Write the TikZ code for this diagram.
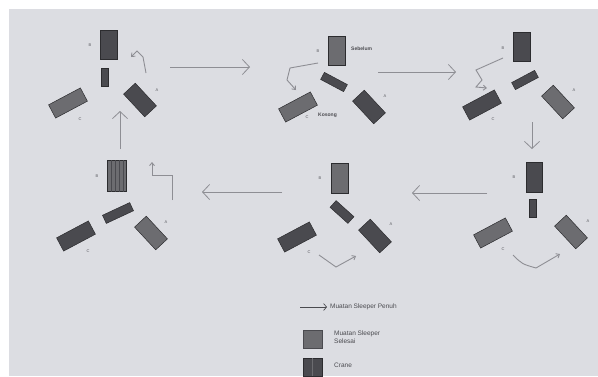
\documentclass[tikz,border=0pt]{standalone}
\usepackage{fontspec}
\setmainfont{Liberation Sans}
\usetikzlibrary{arrows.meta}
\definecolor{paper}{HTML}{DCDDE2}
\definecolor{pile}{HTML}{4A4A4F}
\definecolor{pilelt}{HTML}{6C6C70}
\definecolor{arr}{HTML}{8E8E94}
\definecolor{lbl}{HTML}{5A5A60}
\tikzset{
  pv/.style={fill=pile, draw=pile!60!black, line width=0.5pt, minimum width=17pt, minimum height=29pt, inner sep=0pt},
  pll/.style={fill=pile, draw=pile!60!black, line width=0.5pt, minimum width=36pt, minimum height=15pt, inner sep=0pt, rotate=28},
  plr/.style={fill=pile, draw=pile!60!black, line width=0.5pt, minimum width=31pt, minimum height=16pt, inner sep=0pt, rotate=-47},
  crv/.style={fill=pile, draw=pile!60!black, line width=0.5pt, minimum width=7pt, minimum height=18pt, inner sep=0pt},
  crt/.style={fill=pile, draw=pile!60!black, line width=0.5pt, minimum width=26pt, minimum height=8pt, inner sep=0pt},
  light/.style={fill=pilelt},
  tag/.style={font=\fontsize{4}{4}\selectfont, text=lbl, inner sep=0pt},
  note/.style={font=\fontsize{5}{6}\selectfont\bfseries, text=pile, inner sep=0pt, anchor=west},
  bigarr/.style={draw=arr, line width=0.9pt, -{Straight Barb[length=7pt,width=15pt,line width=0.8pt]}},
  movearr/.style={draw=arr, line width=0.9pt, -{Straight Barb[length=3pt,width=5pt]}},
  legtext/.style={font=\fontsize{6.5}{7.5}\selectfont, text=pile, inner sep=0pt, anchor=west, align=left}
}
\begin{document}
\begin{tikzpicture}[x=1pt,y=-1pt]
\useasboundingbox (0,0) rectangle (598,376);
\fill[white] (0,0) rectangle (598,376);
\fill[paper] (9,9) rectangle (598,376);

% ---------- Panel 1 (top left)
\node[pv] (p1t) at (109,45) {};
\node[crv] (p1c) at (105,77) {};
\node[pll, light] (p1l) at (68,103) {};
\node[plr] (p1r) at (140,100) {};
\node[tag] (p1b) at (90,45) {B};
\node[tag] (p1a) at (157,90) {A};
\node[tag] (p1cc) at (80,119) {C};
\coordinate (m1a) at (146,73);
\coordinate (m1b) at (143,57);
\coordinate (m1c) at (137,51);
\coordinate (m1d) at (131,57);
\draw[movearr] (m1a) -- (m1b) -- (m1c) -- (m1d);

% ---------- Panel 2 (top middle)
\node[pv, light] (p2t) at (337,51) {};
\node[crt, rotate=-28] (p2c) at (334,82) {};
\node[pll, light] (p2l) at (298,107) {};
\node[plr] (p2r) at (369,107) {};
\node[tag] (p2b) at (318,51) {B};
\node[tag] (p2a) at (385,96) {A};
\node[tag] (p2cc) at (307,117) {C};
\node[note] (p2n) at (351,49) {Sebelum};
\node[note] (p2k) at (318,115) {Kosong};
\coordinate (m2a) at (318,63);
\coordinate (m2b) at (290,68);
\coordinate (m2c) at (287,80);
\coordinate (m2d) at (296,90);
\draw[movearr] (m2a) -- (m2b) -- (m2c) -- (m2d);

% ---------- Panel 3 (top right)
\node[pv] (p3t) at (522,47) {};
\node[crt, rotate=28] (p3c) at (525,80) {};
\node[pll] (p3l) at (482,105) {};
\node[plr, light] (p3r) at (558,102) {};
\node[tag] (p3b) at (503,48) {B};
\node[tag] (p3a) at (574,90) {A};
\node[tag] (p3cc) at (493,119) {C};
\coordinate (m3a) at (503,58);
\coordinate (m3b) at (476,70);
\coordinate (m3c) at (482,80);
\coordinate (m3d) at (476,87);
\coordinate (m3e) at (487,88);
\draw[movearr] (m3a) -- (m3b) -- (m3c) -- (m3d) -- (m3e);

% ---------- Panel 4 (bottom right)
\node[pv, minimum height=30pt, minimum width=16pt] (p4t) at (534,177) {};
\node[crv] (p4c) at (533,208) {};
\node[pll, light] (p4l) at (493,233) {};
\node[plr, light] (p4r) at (571,232) {};
\node[tag] (p4b) at (514,177) {B};
\node[tag] (p4a) at (588,221) {A};
\node[tag] (p4cc) at (503,249) {C};
\coordinate (m4a) at (513,255);
\coordinate (m4b) at (536,268);
\coordinate (m4c) at (560,254);
\draw[movearr] (m4a) .. controls (522,264) .. (m4b) -- (m4c);

% ---------- Panel 5 (bottom middle)
\node[pv, light, minimum height=30pt] (p5t) at (340,178) {};
\node[crt, rotate=-42, minimum width=24pt, minimum height=9pt] (p5c) at (342,212) {};
\node[pll] (p5l) at (297,237) {};
\node[plr] (p5r) at (375,236) {};
\node[tag] (p5b) at (320,178) {B};
\node[tag] (p5a) at (391,224) {A};
\node[tag] (p5cc) at (309,252) {C};
\coordinate (m5a) at (319,255);
\coordinate (m5b) at (336,267);
\coordinate (m5c) at (356,256);
\draw[movearr] (m5a) -- (m5b) -- (m5c);

% ---------- Panel 6 (bottom left)
\node[pv, light, minimum width=19pt, minimum height=31pt] (p6t) at (117,176) {};
\foreach \i in {-6,-2,2,6} \draw[pile, line width=0.4pt] ([xshift=\i pt]p6t.north) -- ([xshift=\i pt]p6t.south);
\node[crt, rotate=25, minimum width=30pt, minimum height=9pt] (p6c) at (118,213) {};
\node[pll] (p6l) at (76,236) {};
\node[plr, light] (p6r) at (151,233) {};
\node[tag] (p6b) at (97,176) {B};
\node[tag] (p6a) at (166,222) {A};
\node[tag] (p6cc) at (88,251) {C};
\coordinate (m6a) at (172,200);
\coordinate (m6b) at (172,175);
\coordinate (m6c) at (152,175);
\coordinate (m6d) at (152,162);
\draw[movearr] (m6a) -- (m6b) -- (m6c) -- (m6d);

% ---------- big flow arrows
\coordinate (f1s) at (170,67);  \coordinate (f1e) at (250,67);
\coordinate (f2s) at (378,72);  \coordinate (f2e) at (456,72);
\coordinate (f3s) at (532,122); \coordinate (f3e) at (532,149);
\coordinate (f4s) at (487,193); \coordinate (f4e) at (412,193);
\coordinate (f5s) at (282,192); \coordinate (f5e) at (202,192);
\coordinate (f6s) at (120,149); \coordinate (f6e) at (120,111);
\draw[bigarr] (f1s) -- (f1e);
\draw[bigarr] (f2s) -- (f2e);
\draw[bigarr] (f3s) -- (f3e);
\draw[bigarr] (f4s) -- (f4e);
\draw[bigarr] (f5s) -- (f5e);
\draw[bigarr] (f6s) -- (f6e);

% ---------- legend
\coordinate (l1s) at (300,307); \coordinate (l1e) at (327,307);
\draw[draw=pile, line width=0.7pt, -{Straight Barb[length=3pt,width=7pt]}] (l1s) -- (l1e);
\node[legtext] (l1t) at (330,307) {Muatan Sleeper Penuh};
\node[fill=pilelt, draw=pile, minimum width=19pt, minimum height=18pt, inner sep=0pt] (l2b) at (312.5,339) {};
\node[legtext] (l2t) at (334,337) {Muatan Sleeper\\Selesai};
\node[fill=pile, draw=pile!60!black, minimum width=19pt, minimum height=18pt, inner sep=0pt] (l3b) at (312.5,367) {};
\draw[pilelt, line width=0.5pt] (l3b.north) -- (l3b.south);
\node[legtext] (l3t) at (334,365) {Crane};
\end{tikzpicture}
\end{document}
